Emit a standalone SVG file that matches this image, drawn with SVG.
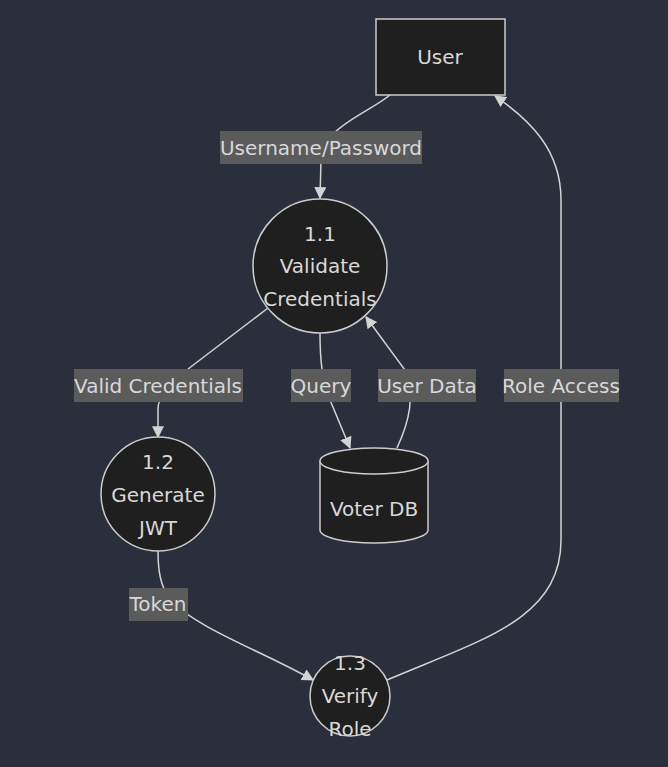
<svg xmlns="http://www.w3.org/2000/svg" width="668" height="767" viewBox="0 0 668 767">
<defs>
<style>
.node{fill:#1f1f1f;stroke:#cccccc;stroke-width:1.5}
.t{font-family:"DejaVu Sans",sans-serif;font-size:20px;fill:#d8d8d8;text-anchor:middle;dominant-baseline:central}
.e{fill:none;stroke:#d3d3d3;stroke-width:1.5}
.lb{fill:#5b5b5b}
</style>
<marker id="arr" viewBox="0 0 10 10" refX="9" refY="5" markerWidth="12" markerHeight="12" markerUnits="userSpaceOnUse" orient="auto">
<path d="M0,0 L10,5 L0,10 z" fill="#d3d3d3"/>
</marker>
</defs>
<rect width="668" height="767" fill="#2a2f3b"/>
<g id="connectors">
<path class="e" d="M390,95 C370,112 321,128 321,160 L320,198" marker-end="url(#arr)"/>
<path class="e" d="M268,308 L192,366 C168,384 158,395 158,410 L158,437" marker-end="url(#arr)"/>
<path class="e" d="M320,333 C320,360 322,380 330,400 L350,448" marker-end="url(#arr)"/>
<path class="e" d="M397,448 C410,420 415,395 405,370 L366,317" marker-end="url(#arr)"/>
<path class="e" d="M158,551 C158,570 160,585 170,600 C200,630 260,650 313,680" marker-end="url(#arr)"/>
<path class="e" d="M387,680 C480,640 561,620 561,540 L561,200 C561,150 530,120 495,96" marker-end="url(#arr)"/>
</g>
<g id="labels">
<rect class="lb" x="220" y="131" width="202" height="33"/>
<text class="t" x="321" y="148">Username/Password</text>
<rect class="lb" x="74" y="369" width="169" height="33"/>
<text class="t" x="158" y="386">Valid Credentials</text>
<rect class="lb" x="291" y="369" width="60" height="33"/>
<text class="t" x="321" y="386">Query</text>
<rect class="lb" x="378" y="369" width="98" height="33"/>
<text class="t" x="427" y="386">User Data</text>
<rect class="lb" x="504" y="369" width="115" height="33"/>
<text class="t" x="561" y="386">Role Access</text>
<rect class="lb" x="129" y="588" width="59" height="33"/>
<text class="t" x="158" y="604">Token</text>
</g>
<g id="user">
<rect class="node" x="376" y="19" width="129" height="76"/>
<text class="t" x="440" y="57">User</text>
</g>
<g id="p11">
<circle class="node" cx="320" cy="266" r="67"/>
<text class="t" x="320" y="234">1.1</text>
<text class="t" x="320" y="266">Validate</text>
<text class="t" x="320" y="299">Credentials</text>
</g>
<g id="p12">
<circle class="node" cx="158" cy="494" r="57"/>
<text class="t" x="158" y="462">1.2</text>
<text class="t" x="158" y="495">Generate</text>
<text class="t" x="158" y="528">JWT</text>
</g>
<g id="voterdb">
<path class="node" d="M320,461 A54,13 0 0 1 428,461 L428,530 A54,13 0 0 1 320,530 Z"/>
<path class="node" fill="none" d="M320,461 A54,13 0 0 0 428,461"/>
<text class="t" x="374" y="509">Voter DB</text>
</g>
<g id="p13">
<circle class="node" cx="350" cy="696" r="40"/>
<text class="t" x="350" y="663">1.3</text>
<text class="t" x="350" y="696">Verify</text>
<text class="t" x="350" y="729">Role</text>
</g>
</svg>
